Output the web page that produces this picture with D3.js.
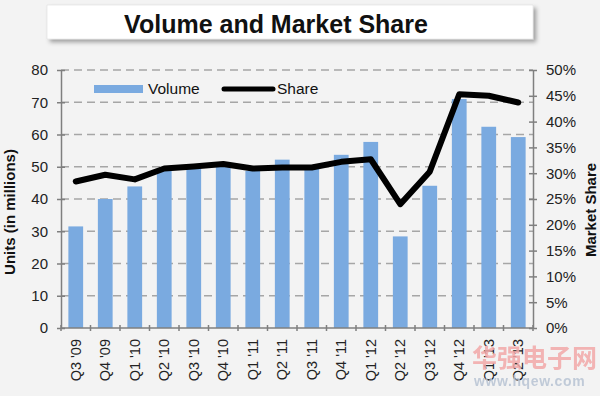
<!DOCTYPE html>
<html>
<head>
<meta charset="utf-8">
<style>
  body { margin: 0; background: #f3f3f3; }
  svg { display: block; font-family: Arial, "Liberation Sans", sans-serif; }
</style>
<script src="https://cdn.jsdelivr.net/npm/d3@7"></script>
</head>
<body>
<script>
// quarters on the x axis
var categories = ["Q3 '09", "Q4 '09", "Q1 '10", "Q2 '10", "Q3 '10", "Q4 '10", "Q1 '11", "Q2 '11",
                  "Q3 '11", "Q4 '11", "Q1 '12", "Q2 '12", "Q3 '12", "Q4 '12", "Q1 '13", "Q2 '13"];
// units, millions
var volume = [31.5, 40.0, 43.9, 49.0, 49.3, 50.0, 48.7, 52.2, 49.3, 53.7, 57.7, 28.4, 44.1, 71.0, 62.4, 59.2];
// market share, percent
var share = [28.4, 29.7, 28.8, 30.9, 31.3, 31.8, 30.9, 31.1, 31.1, 32.2, 32.7, 24.0, 30.3, 45.3, 45.0, 43.7];
var leftTicks = [0, 10, 20, 30, 40, 50, 60, 70, 80];
var rightTicks = [0, 5, 10, 15, 20, 25, 30, 35, 40, 45, 50];

var W = 600, H = 396;
var plotL = 61, plotR = 533, plotT = 70, plotB = 328;
var axisColor = "#7f7f7f";

var svg = d3.select("body").append("svg")
    .attr("width", W)
    .attr("height", H);

svg.append("rect").attr("width", W).attr("height", H).attr("fill", "#f3f3f3");

var defs = svg.append("defs");
defs.append("filter").attr("id", "shadow")
    .attr("x", "-10%").attr("y", "-30%").attr("width", "120%").attr("height", "180%")
  .append("feDropShadow")
    .attr("dx", 3).attr("dy", 3).attr("stdDeviation", 2)
    .attr("flood-color", "#000").attr("flood-opacity", 0.35);

// title box
svg.append("rect")
    .attr("x", 47).attr("y", 5).attr("width", 486).attr("height", 34)
    .attr("fill", "#fff").attr("stroke", "#d8d8d8").attr("stroke-width", 0.5)
    .attr("filter", "url(#shadow)");
svg.append("text")
    .attr("x", 276).attr("y", 33)
    .attr("text-anchor", "middle")
    .attr("font-size", 25).attr("font-weight", "bold").attr("fill", "#111")
    .text("Volume and Market Share");

var x = d3.scaleBand()
    .domain(categories)
    .range([plotL, plotR])
    .paddingInner(0.5)
    .paddingOuter(0.25);

var y = d3.scaleLinear().domain([0, 80]).range([plotB, plotT]);
var y2 = d3.scaleLinear().domain([0, 50]).range([plotB, plotT]);

// dashed gridlines
svg.append("g")
    .selectAll("line")
    .data(leftTicks.filter(d => d > 0))
    .enter().append("line")
    .attr("x1", plotL).attr("x2", plotR)
    .attr("y1", d => y(d)).attr("y2", d => y(d))
    .attr("stroke", "#a6a6a6").attr("stroke-width", 1.5)
    .attr("stroke-dasharray", "8,5");

// bars
svg.append("g")
    .selectAll("rect")
    .data(volume)
    .enter().append("rect")
    .attr("x", (d, i) => x(categories[i]))
    .attr("y", d => y(d))
    .attr("width", x.bandwidth())
    .attr("height", d => y(0) - y(d))
    .attr("fill", "#7aaae0");

// axes
function styleAxis(g) {
    g.attr("font-family", null);
    g.select(".domain").attr("stroke", axisColor).attr("stroke-width", 1.5);
    g.selectAll(".tick line").attr("stroke", axisColor).attr("stroke-width", 1.5);
    g.selectAll("text").attr("fill", "#222").attr("font-size", 15);
}

var yAxis = svg.append("g")
    .attr("transform", `translate(${plotL},0)`)
    .call(d3.axisLeft(y).tickValues(leftTicks).tickSizeInner(4).tickSizeOuter(0).tickPadding(9));
yAxis.selectAll(".tick line").attr("x2", 4).attr("x1", -4);
styleAxis(yAxis);

var y2Axis = svg.append("g")
    .attr("transform", `translate(${plotR},0)`)
    .call(d3.axisRight(y2).tickValues(rightTicks).tickFormat(d => d + "%").tickSizeInner(4).tickSizeOuter(0).tickPadding(9));
y2Axis.selectAll(".tick line").attr("x1", -4).attr("x2", 4);
styleAxis(y2Axis);

// x axis: ticks at band boundaries
var bounds = categories.map((c, i) => plotL + i * (plotR - plotL) / categories.length).concat([plotR]);
var xAxis = svg.append("g");
xAxis.append("line")
    .attr("x1", plotL).attr("x2", plotR)
    .attr("y1", plotB).attr("y2", plotB)
    .attr("stroke", axisColor).attr("stroke-width", 1.5);
xAxis.selectAll(".xt")
    .data(bounds)
    .enter().append("line")
    .attr("class", "xt")
    .attr("x1", d => d).attr("x2", d => d)
    .attr("y1", plotB - 3).attr("y2", plotB + 3)
    .attr("stroke", axisColor).attr("stroke-width", 1.5);
xAxis.selectAll("text")
    .data(categories)
    .enter().append("text")
    .attr("transform", d => `translate(${x(d) + x.bandwidth() / 2 + 5},${plotB + 11}) rotate(-90)`)
    .attr("text-anchor", "end")
    .attr("font-size", 14.5)
    .attr("fill", "#222")
    .text(d => d);

// share line
var line = d3.line()
    .x((d, i) => x(categories[i]) + x.bandwidth() / 2)
    .y(d => y2(d));
svg.append("path")
    .datum(share)
    .attr("d", line)
    .attr("fill", "none")
    .attr("stroke", "#000")
    .attr("stroke-width", 6)
    .attr("stroke-linejoin", "round")
    .attr("stroke-linecap", "round");

// axis titles
svg.append("text")
    .attr("transform", "translate(15,212) rotate(-90)")
    .attr("text-anchor", "middle")
    .attr("font-size", 15).attr("font-weight", "bold").attr("fill", "#111")
    .text("Units (in millions)");
svg.append("text")
    .attr("transform", "translate(596,210) rotate(-90)")
    .attr("text-anchor", "middle")
    .attr("font-size", 15).attr("font-weight", "bold").attr("fill", "#111")
    .text("Market Share");

// legend
var legend = svg.append("g");
legend.append("rect")
    .attr("x", 94).attr("y", 85).attr("width", 49).attr("height", 8)
    .attr("fill", "#7aaae0");
legend.append("text")
    .attr("x", 148).attr("y", 94)
    .attr("font-size", 15.5).attr("fill", "#111")
    .text("Volume");
legend.append("line")
    .attr("x1", 224).attr("x2", 273).attr("y1", 89).attr("y2", 89)
    .attr("stroke", "#000").attr("stroke-width", 5).attr("stroke-linecap", "round");
legend.append("text")
    .attr("x", 277).attr("y", 94)
    .attr("font-size", 15.5).attr("fill", "#111")
    .text("Share");

// watermark
svg.append("text")
    .attr("x", 472).attr("y", 367)
    .attr("font-size", 25).attr("font-weight", "bold")
    .attr("font-family", "'Noto Sans CJK SC', sans-serif")
    .attr("fill", "#f2a8a8").attr("opacity", 0.85)
    .text("华强电子网");
svg.append("text")
    .attr("x", 474).attr("y", 386)
    .attr("font-size", 14).attr("font-weight", "bold")
    .attr("letter-spacing", 0.6)
    .attr("fill", "#b8c4d4").attr("opacity", 0.85)
    .text("www.hqew.com");
</script>
</body>
</html>
